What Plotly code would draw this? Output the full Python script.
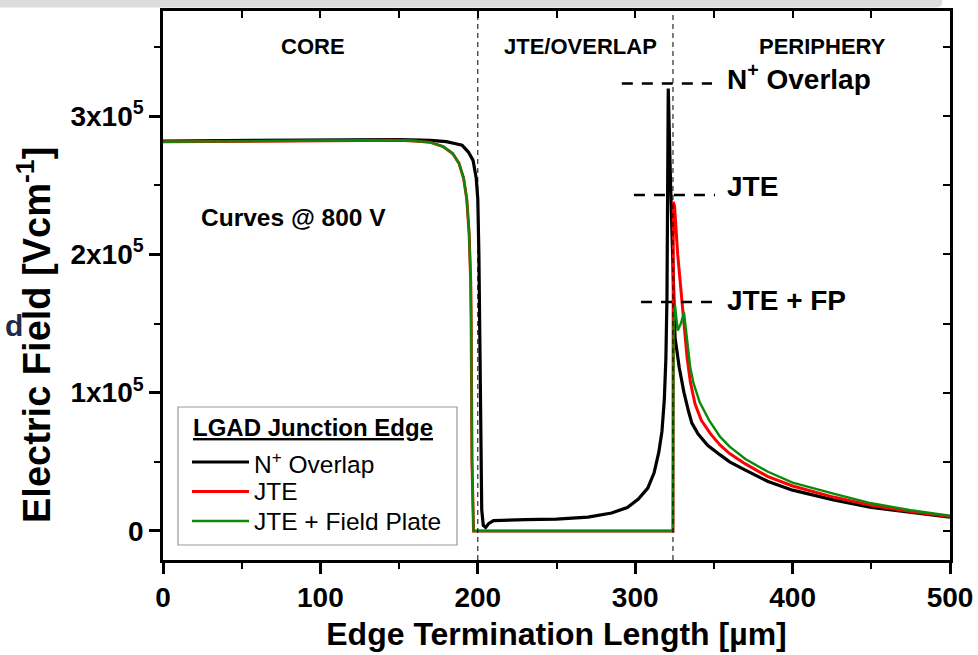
import plotly.graph_objects as go

# ---- Electric field along the edge termination, LGAD devices @ 800 V ----
# position along the edge termination [um]
x_overlap = [0, 50, 100, 150, 170, 180, 186, 190, 194, 197, 199, 200, 200.7, 201.3,
             201.8, 202.5, 203.5, 205, 207, 210, 230, 250, 270, 285, 295, 302, 308,
             312, 315, 317, 318.5, 319.5, 320.2, 321, 322.5, 324, 325.3, 328, 331,
             334, 336, 340, 346, 354, 360, 370, 384, 400, 426, 450, 475, 500]
e_overlap = [282000, 282500, 283000, 283000, 282500, 281500, 280000, 279000, 274000,
             268000, 255000, 240000, 200000, 120000, 50000, 15000, 4000, 2500, 5500,
             7500, 8200, 8600, 10000, 13000, 17000, 23000, 31000, 42000, 57000, 72000,
             95000, 125000, 170000, 320000, 250000, 190000, 140000, 118000, 100000,
             86000, 78000, 70000, 62000, 55000, 50000, 44000, 36000, 29500, 22500,
             17000, 13500, 10000]

x_jte = [0, 50, 100, 150, 160, 170, 178, 184, 188, 191, 193, 194.5, 195.5, 195.8,
         196.3, 196.8, 197.3, 260, 324, 324.2, 325, 327, 330, 333, 335, 338, 342,
         348, 354, 360, 370, 384, 400, 426, 450, 475, 500]
e_jte = [281500, 282000, 282500, 282500, 282000, 281000, 278000, 273000, 266000,
         255000, 240000, 215000, 180000, 150000, 50000, 5000, 0, 0, 0, 238000,
         235000, 200000, 160000, 125000, 108000, 92000, 80000, 70000, 62000, 56000,
         48500, 39500, 32500, 24500, 18500, 14000, 10500]

x_jte_fp = [0, 50, 100, 150, 160, 170, 178, 184, 188, 191, 193, 194.5, 195.5, 195.8,
            196.3, 196.8, 197.3, 260, 324, 324.4, 325.3, 327, 329, 331, 333, 335, 337,
            341, 347, 354, 360, 370, 384, 400, 426, 450, 475, 500]
e_jte_fp = [281500, 282000, 282500, 282500, 282000, 281000, 278000, 273000, 266000,
            255000, 240000, 215000, 180000, 150000, 50000, 5000, 0, 0, 0, 150000,
            163000, 145000, 150000, 158000, 140000, 118000, 107000, 93000, 80000,
            68000, 61000, 52000, 43000, 35000, 27000, 20000, 15000, 11000]

series_names = ["N<sup>+</sup> Overlap", "JTE", "JTE + Field Plate"]
series_colors = ["#000000", "#ff0000", "#0a8a0a"]
series_widths = [3.2, 3.0, 2.4]

# region boundaries [um]
region_edges = [200, 324]
region_labels = ["CORE", "JTE/OVERLAP", "PERIPHERY"]
region_label_x = [95.5, 265, 419]

# peak markers: label, field level, x extent of the dashed guide
peak_labels = ["N<sup>+</sup> Overlap", "JTE", "JTE + FP"]
peak_levels = [323500, 243000, 165500]
peak_x0 = [291.5, 299.2, 303.7]
peak_x1 = [348.8, 350.7, 352.6]
peak_text_shift = [7, 8, 2]

x_ticks = [0, 100, 200, 300, 400, 500]
y_ticks = [0, 100000, 200000, 300000]
y_tick_text = ["0", "1x10<sup>5</sup>", "2x10<sup>5</sup>", "3x10<sup>5</sup>"]

FONT = "Liberation Sans, Arial, sans-serif"
X_RANGE = [0, 500]
Y_RANGE = [-21000, 376000]

fig = go.Figure()
for xs, ys, name, col, w in zip([x_overlap, x_jte, x_jte_fp],
                                [e_overlap, e_jte, e_jte_fp],
                                series_names, series_colors, series_widths):
    fig.add_trace(go.Scatter(x=xs, y=ys, mode="lines", name=name,
                             line=dict(color=col, width=w), showlegend=False))

# companion axes carrying the inward ticks on the top and right frame
fig.add_trace(go.Scatter(x=[], y=[], xaxis="x2", yaxis="y2", showlegend=False,
                         hoverinfo="skip"))

# pixel layout of the plotting area
PL, PT, PW, PH = 163, 11, 787, 549


def px(x):
    return (x - PL) / PW


def py(y):
    return (PT + PH - y) / PH


shapes = []
# region separators
for xe in region_edges:
    shapes.append(dict(type="line", xref="x", yref="paper", x0=xe, x1=xe, y0=0, y1=1,
                       line=dict(color="black", width=1, dash="5px,4px")))
# peak guides
for lev, a, b in zip(peak_levels, peak_x0, peak_x1):
    shapes.append(dict(type="line", xref="x", yref="y", x0=a, x1=b, y0=lev, y1=lev,
                       line=dict(color="black", width=2.5, dash="11px,9px")))

annotations = []
for lab, xl in zip(region_labels, region_label_x):
    annotations.append(dict(x=xl, y=py(46), xref="x", yref="paper", text=f"<b>{lab}</b>",
                            xanchor="center", yanchor="middle", showarrow=False,
                            font=dict(family=FONT, size=22, color="black")))
for lab, lev, sh in zip(peak_labels, peak_levels, peak_text_shift):
    annotations.append(dict(x=357, y=lev, xref="x", yref="y", text=f"<b>{lab}</b>",
                            xanchor="left", yanchor="middle", showarrow=False, yshift=sh,
                            font=dict(family=FONT, size=28, color="black")))
annotations.append(dict(x=23, y=227000, xref="x", yref="y", text="<b>Curves @ 800 V</b>",
                        xanchor="left", yanchor="middle", showarrow=False,
                        font=dict(family=FONT, size=24.5, color="black")))

# y-axis title, set lower than the plot centre
annotations.append(dict(x=px(34), y=py(335), xref="paper", yref="paper",
                        text="<b>Electric Field [Vcm<sup>-1</sup>]</b>", textangle=-90,
                        xanchor="center", yanchor="middle", showarrow=False,
                        font=dict(family=FONT, size=38, color="black")))

# legend block
shapes.append(dict(type="rect", xref="paper", yref="paper", x0=px(178), x1=px(457),
                   y0=py(545), y1=py(407), line=dict(color="#9a9a9a", width=1.2),
                   fillcolor="white", layer="above"))
annotations.append(dict(x=px(191), y=py(427), xref="paper", yref="paper",
                        text="<b><u>LGAD Junction Edge</u></b>", xanchor="left",
                        yanchor="middle", showarrow=False,
                        font=dict(family=FONT, size=24, color="black")))
for i, (name, col, w) in enumerate(zip(series_names, series_colors, series_widths)):
    yy = 462 + i * 29.5
    shapes.append(dict(type="line", xref="paper", yref="paper", x0=px(192), x1=px(249),
                       y0=py(yy), y1=py(yy), line=dict(color=col, width=w), layer="above"))
    annotations.append(dict(x=px(252), y=py(yy), xref="paper", yref="paper", text=name,
                            xanchor="left", yanchor="middle", showarrow=False,
                            font=dict(family=FONT, size=24.5, color="black")))

# band along the top edge of the page
shapes.append(dict(type="path", xref="paper", yref="paper",
                   path=f"M {px(0)},{py(-2)} L {px(942)},{py(-2)} L {px(942)},{py(3)} "
                        f"Q {px(942)},{py(7.5)} {px(934)},{py(7.5)} L {px(0)},{py(7.5)} Z",
                   fillcolor="#dcdcdc", line=dict(width=0), layer="above"))
# clipped glyph at the left page border
annotations.append(dict(x=px(14), y=py(325), xref="paper", yref="paper", text="<b>d</b>",
                        xanchor="center", yanchor="middle", showarrow=False,
                        font=dict(family=FONT, size=30, color="#1d2b4c")))

axis_common = dict(showline=True, linecolor="black", linewidth=2.5, showgrid=False,
                   zeroline=False, automargin=False)

fig.update_layout(
    width=978, height=655,
    margin=dict(l=PL, r=978 - PL - PW, t=PT, b=655 - PT - PH),
    paper_bgcolor="white", plot_bgcolor="white",
    font=dict(family=FONT, color="black"),
    shapes=shapes, annotations=annotations,
    xaxis=dict(range=X_RANGE, tickvals=x_ticks, ticktext=[f"<b>{v}</b>" for v in x_ticks],
               ticks="outside", ticklen=11, tickwidth=2.5, tickcolor="black",
               tickfont=dict(family=FONT, size=28, color="black"),
               minor=dict(dtick=50, ticks="outside", ticklen=6, tickwidth=2.2,
                          tickcolor="black"),
               title=dict(text="<b>Edge Termination Length [µm]</b>",
                          font=dict(family=FONT, size=32, color="black"), standoff=11),
               **axis_common),
    yaxis=dict(range=Y_RANGE, tickvals=y_ticks,
               ticktext=[f"<b>{t}</b>" for t in y_tick_text],
               ticks="outside", ticklen=11, tickwidth=2.5, tickcolor="black",
               tickfont=dict(family=FONT, size=28, color="black"),
               minor=dict(dtick=50000, tick0=0, ticks="outside", ticklen=6,
                          tickwidth=2.2, tickcolor="black"),
               **axis_common),
    xaxis2=dict(range=X_RANGE, overlaying="x", side="top", showticklabels=False,
                tick0=0, dtick=50, ticks="inside", ticklen=7, tickwidth=2.2,
                tickcolor="black", **axis_common),
    yaxis2=dict(range=Y_RANGE, overlaying="y", side="right", showticklabels=False,
                tick0=0, dtick=50000, ticks="inside", ticklen=7, tickwidth=2.2,
                tickcolor="black", **axis_common),
)

fig.write_html("out.html")
